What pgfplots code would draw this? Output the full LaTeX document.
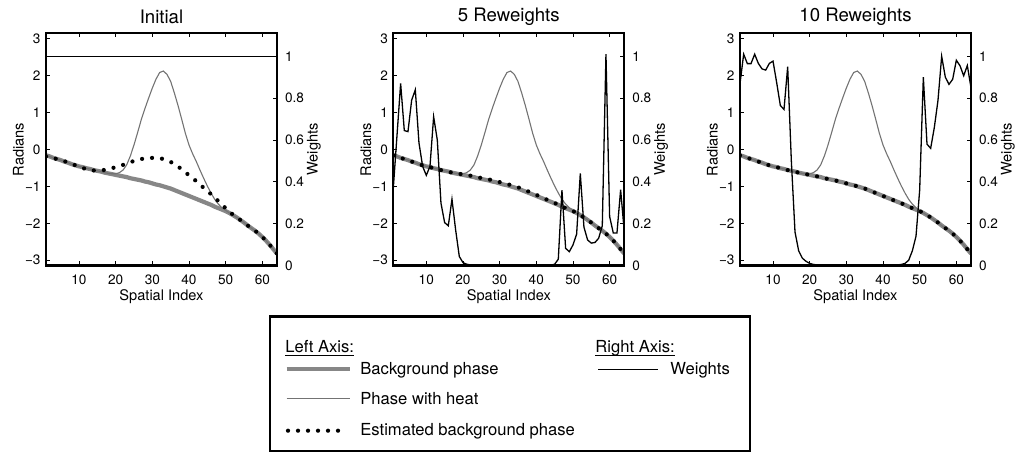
\documentclass[border=0pt]{standalone}
\usepackage{fontspec}
\setmainfont{TeX Gyre Heros}
\usepackage{pgfplots}
\pgfplotsset{compat=1.18}
\usepackage{pgfplotstable}

\definecolor{thickgray}{RGB}{135,135,135}
\definecolor{thingray}{RGB}{115,115,115}

% phase curves (radians), same x for every panel
\pgfplotstableread{
x bg heat est1 est2
1 -0.16 -0.16 -0.19 -0.16
2 -0.19 -0.19 -0.21 -0.19
3 -0.23 -0.23 -0.24 -0.23
4 -0.26 -0.26 -0.26 -0.26
5 -0.29 -0.29 -0.29 -0.29
6 -0.33 -0.33 -0.32 -0.33
7 -0.36 -0.36 -0.35 -0.36
8 -0.40 -0.40 -0.39 -0.40
9 -0.43 -0.43 -0.43 -0.43
10 -0.46 -0.46 -0.46 -0.46
11 -0.48 -0.48 -0.50 -0.48
12 -0.51 -0.51 -0.54 -0.51
13 -0.53 -0.53 -0.56 -0.53
14 -0.56 -0.56 -0.57 -0.56
15 -0.58 -0.58 -0.57 -0.58
16 -0.60 -0.60 -0.57 -0.60
17 -0.63 -0.63 -0.555 -0.63
18 -0.65 -0.65 -0.535 -0.645
19 -0.67 -0.66 -0.51 -0.66
20 -0.69 -0.66 -0.48 -0.68
21 -0.71 -0.63 -0.45 -0.70
22 -0.73 -0.56 -0.42 -0.71
23 -0.75 -0.42 -0.39 -0.73
24 -0.78 -0.18 -0.35 -0.755
25 -0.80 0.12 -0.31 -0.775
26 -0.82 0.46 -0.28 -0.79
27 -0.84 0.81 -0.26 -0.81
28 -0.87 1.11 -0.245 -0.835
29 -0.89 1.39 -0.235 -0.855
30 -0.92 1.66 -0.23 -0.885
31 -0.95 1.90 -0.23 -0.915
32 -0.97 2.08 -0.24 -0.935
33 -1.00 2.12 -0.26 -0.965
34 -1.03 2.03 -0.29 -0.995
35 -1.06 1.84 -0.34 -1.025
36 -1.10 1.53 -0.39 -1.065
37 -1.14 1.19 -0.46 -1.105
38 -1.18 0.82 -0.54 -1.145
39 -1.22 0.44 -0.62 -1.187
40 -1.26 0.12 -0.70 -1.23
41 -1.30 -0.12 -0.78 -1.275
42 -1.34 -0.33 -0.86 -1.32
43 -1.38 -0.56 -0.95 -1.365
44 -1.42 -0.78 -1.04 -1.408
45 -1.46 -0.99 -1.13 -1.45
46 -1.50 -1.18 -1.21 -1.495
47 -1.55 -1.35 -1.30 -1.547
48 -1.59 -1.48 -1.40 -1.59
49 -1.63 -1.58 -1.50 -1.63
50 -1.67 -1.65 -1.59 -1.67
51 -1.72 -1.72 -1.70 -1.72
52 -1.78 -1.78 -1.76 -1.78
53 -1.84 -1.84 -1.84 -1.84
54 -1.91 -1.91 -1.91 -1.91
55 -1.98 -1.98 -1.98 -1.98
56 -2.06 -2.06 -2.06 -2.06
57 -2.13 -2.13 -2.13 -2.13
58 -2.20 -2.20 -2.20 -2.20
59 -2.28 -2.28 -2.28 -2.28
60 -2.37 -2.37 -2.37 -2.37
61 -2.47 -2.47 -2.47 -2.47
62 -2.58 -2.58 -2.58 -2.58
63 -2.70 -2.70 -2.70 -2.70
64 -2.82 -2.82 -2.82 -2.82
}\phase

% weights after 5 and 10 reweights
\pgfplotstableread{
x w2 w3
1 0.37 0.87
2 0.62 1.01
3 0.87 0.965
4 0.645 0.965
5 0.64 1.01
6 0.79 0.966
7 0.84 0.94
8 0.586 0.934
9 0.474 0.966
10 0.431 0.977
11 0.474 0.874
12 0.711 0.765
13 0.60 0.746
14 0.298 0.95
15 0.205 0.50
16 0.19 0.16
17 0.317 0.07
18 0.17 0.035
19 0.043 0.02
20 0.014 0.01
21 0.006 0.005
22 0.003 0.003
23 0.002 0.002
24 0.001 0.001
26 0.001 0.001
28 0.001 0.001
30 0.001 0.001
32 0.001 0.001
34 0.001 0.001
36 0.001 0.001
38 0.001 0.001
40 0.001 0.001
42 0.001 0.001
43 0.001 0.002
44 0.002 0.003
45 0.006 0.005
46 0.03 0.01
47 0.36 0.025
48 0.082 0.07
49 0.066 0.14
50 0.098 0.36
51 0.15 0.90
52 0.44 0.58
53 0.183 0.56
54 0.122 0.66
55 0.107 0.79
56 0.11 1.0
57 0.13 0.90
58 0.19 0.866
59 1.01 0.89
60 0.234 0.981
61 0.155 0.955
62 0.155 0.907
63 0.362 0.956
64 0.16 0.85
}\weights

\newcommand{\tickfont}{\fontsize{6.8}{8}\selectfont}
\newcommand{\labfont}{\fontsize{7.3}{9}\selectfont}
\newcommand{\legfont}{\fontsize{8.3}{10}\selectfont}
% underline drawn just under the baseline
\newcommand{\ul}[1]{\setbox0\hbox{#1}\rlap{\rule[-1.7pt]{\wd0}{0.45pt}}\box0}

\pgfplotsset{
  panel/.style={scale only axis, width=115.5pt, height=116.1pt, xmin=1, xmax=64,
    anchor=south west, tick align=inside, major tick length=2pt,
    axis line style={line width=1.15pt},
    every tick/.style={black, line width=0.45pt},
    /pgf/number format/assume math mode=true,
    tick label style={font=\tickfont}},
  leftax/.style={panel, ymin=-3.1416, ymax=3.1416,
    ytick={-3,-2,-1,0,1,2,3}, yticklabels={−3,−2,−1,0,1,2,3},
    xtick={10,20,30,40,50,60}, xticklabels={10,20,30,40,50,60},
    ytick pos=left, xtick pos=both, xticklabel pos=bottom,
    xlabel={Spatial Index}, ylabel={Radians},
    every axis x label/.style={at={(axis description cs:0.5,-0.1357)}, anchor=center, font=\labfont},
    every axis y label/.style={at={(axis description cs:-0.119,0.5)}, rotate=90, anchor=center, font=\labfont},
    every axis title shift=0pt,
    every axis title/.style={at={(axis description cs:0.5,1.0715)}, anchor=center,
      font=\fontsize{9.3}{11}\selectfont},
    yticklabel style={xshift=0.8pt}, xticklabel style={yshift=-1pt}},
  rightax/.style={panel, ymin=0, ymax=1.11, xtick=\empty,
    ytick pos=right, yticklabel pos=right,
    ytick={0,0.2,0.4,0.6,0.8,1}, yticklabels={0,0.2,0.4,0.6,0.8,1},
    ylabel={Weights},
    every axis y label/.style={at={(axis description cs:1.160,0.5)}, rotate=90, anchor=center, font=\labfont},
    yticklabel style={xshift=0.5pt}},
  bgline/.style={thickgray, line width=2.1pt},
  heatline/.style={thingray, line width=0.55pt},
  estline/.style={black, line width=2.1pt, line cap=round, dash pattern=on 0pt off 5pt},
  wline/.style={black, line width=0.65pt},
}
\tikzset{legtext/.style={anchor=base west, inner sep=0pt, font=\legfont}}

\begin{document}
\begin{tikzpicture}
\useasboundingbox (0,0) rectangle (510pt,227pt);

% Initial
\begin{axis}[leftax, at={(23pt,94.25pt)}, title={Initial}]
\addplot[bgline] table[x=x, y=bg] {\phase};
\addplot[heatline] table[x=x, y=heat] {\phase};
\addplot[estline] table[x=x, y=est1] {\phase};
\end{axis}
\begin{axis}[rightax, at={(23pt,94.25pt)}]
\addplot[wline] coordinates {(1,1) (64,1)};
\end{axis}

% 5 Reweights
\begin{axis}[leftax, at={(196.65pt,94.25pt)}, title={5 Reweights}]
\addplot[bgline] table[x=x, y=bg] {\phase};
\addplot[heatline] table[x=x, y=heat] {\phase};
\addplot[estline] table[x=x, y=est2] {\phase};
\end{axis}
\begin{axis}[rightax, at={(196.65pt,94.25pt)}]
\addplot[wline] table[x=x, y=w2] {\weights};
\end{axis}

% 10 Reweights
\begin{axis}[leftax, at={(370pt,94.25pt)}, title={10 Reweights}]
\addplot[bgline] table[x=x, y=bg] {\phase};
\addplot[heatline] table[x=x, y=heat] {\phase};
\addplot[estline] table[x=x, y=bg] {\phase};
\end{axis}
\begin{axis}[rightax, at={(370pt,94.25pt)}]
\addplot[wline] table[x=x, y=w3] {\weights};
\end{axis}

% legend box
\begin{axis}[scale only axis, width=240pt, height=67.25pt, at={(135pt,1.5pt)},
  anchor=south west, xmin=270, xmax=750, ymin=316.5, ymax=451, y dir=reverse,
  ticks=none, axis line style={line width=1.15pt}, clip=false]
\addplot[bgline] coordinates {(286.7,369.3) (350,369.3)};
\addplot[heatline] coordinates {(286.7,398.7) (350,398.7)};
\addplot[estline] coordinates {(288,430.7) (343,430.7)};
\addplot[wline] coordinates {(598,369.3) (658,369.3)};
\node[legtext] at (axis cs:285,353) {\ul{Left Axis:}};
\node[legtext] at (axis cs:360,374.3) {Background phase};
\node[legtext] at (axis cs:360,404.3) {Phase with heat};
\node[legtext] at (axis cs:360,435.7) {Estimated background phase};
\node[legtext] at (axis cs:595,353) {\ul{Right Axis:}};
\node[legtext] at (axis cs:670,374.3) {Weights};
\end{axis}
\end{tikzpicture}
\end{document}
